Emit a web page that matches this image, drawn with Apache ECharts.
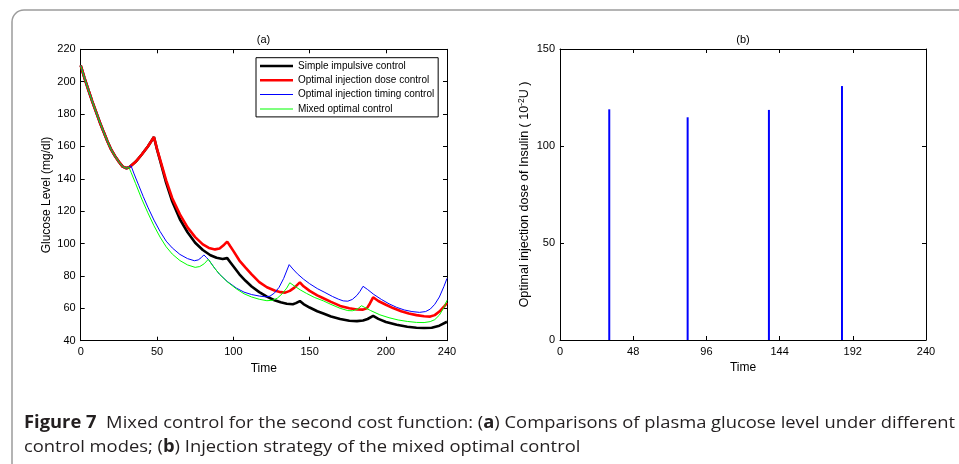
<!DOCTYPE html>
<html><head><meta charset="utf-8">
<script src="https://cdn.jsdelivr.net/npm/echarts@6/dist/echarts.min.js"></script>
<style>html,body{margin:0;padding:0;background:#fff}#c{width:959px;height:464px}</style>
</head><body><div id="c"></div><script>
// ---- data (time in hours, glucose in mg/dl) ----
const seriesNames = ['Simple impulsive control','Optimal injection dose control','Optimal injection timing control','Mixed optimal control'];
const commonStart = [[0,210],[2.5,202.2],[5,195],[7.5,188],[10,181.5],[12.5,175],[15,169],[17.5,163.2],[20,158],[22.5,154],[25,150.5],[27.5,147.5],[30,146.5]];
const simpleImpulsive = [[32,147.3],[36,150.5],[40,155],[44,160],[48,165.8],[50,158.2],[52,151.3],[56,137.5],[60,126],[65,115],[70,107],[75,100.5],[80,96],[85,92.8],[89,91.2],[93,90.5],[96,91],[98,88.5],[100,86],[104,81],[108,77],[112,73.5],[117,70],[122,67.2],[127,65],[131,63.7],[135,62.8],[139,62.5],[141,63.2],[143.6,64.5],[146,62.6],[150,60.5],[155,58.2],[159,56.8],[164,55],[170,53.4],[176,52.3],[181,52.1],[185,52.5],[188,53.4],[191.6,55.3],[195,53.5],[200,51.6],[207,49.8],[214,48.6],[220,48],[225,47.8],[230,48],[235,49.3],[240,51.7]];
const optimalDose = [[32,147.3],[36,150.5],[40,155],[44,160],[48,165.8],[50,158.5],[52,152],[56,139],[60,128],[65,118],[70,110],[75,104],[80,99.5],[84,97.3],[88,96.4],[91,97],[94,99.3],[96,101.2],[98,98.3],[100,95.5],[104,89.5],[108,85.2],[112,81],[117,76.2],[122,73],[127,71],[131,70],[134,69.7],[137,70.8],[140,72.8],[143.6,76],[146,73.6],[150,70.8],[155,68],[159,66.2],[164,64],[170,61.5],[176,60],[181,59.3],[185,59.2],[187.5,60],[189.5,63],[191.6,66.8],[195,64.5],[200,62.2],[205,60],[210,58.2],[215,56.8],[220,55.8],[225,55.1],[229,54.9],[232,55.8],[235,58],[238,61],[240,63.3]];
const optimalTiming = [[31.5,147.2],[33,148],[35,143],[38,136],[41,129],[44,122.5],[48,114.5],[52,107.5],[56,101.5],[60,97.3],[65,93.3],[70,90.7],[74.5,89.4],[77,89.9],[79,91.3],[80.7,93],[82.5,91.3],[84,89.8],[88,84.5],[91,81],[96,76.6],[102,72.5],[107,70],[112,68.5],[117,67.6],[121,67.1],[124,67.5],[127,69.5],[130,73],[133,78.5],[136.6,87],[139,84.3],[142,81.3],[146,78],[150,75.2],[155,72.2],[160,69.8],[165,67.3],[169,65.6],[172,64.6],[175,64.4],[178,65.5],[181,68],[183,70.5],[185,73.6],[188,71.6],[192,68.6],[197,65.5],[202,62.8],[207,60.6],[212,59],[217,58],[222,57.5],[226,58],[229,59.5],[232,62.5],[235,67],[238,73.5],[240,78.5]];
const mixedOptimal = [[31.5,147.3],[33,144],[36,137],[40,127.5],[44,119],[48,111],[52,104],[56,98],[60,93.5],[65,89.5],[70,86.8],[75,85.3],[78,85.8],[81,87.6],[83.6,90.3],[86,87],[88,84.5],[91,81],[96,76.4],[102,72],[107,69],[112,67],[117,65.6],[122,64.7],[126,65],[129,66.4],[132,69],[135,72.5],[137,75.8],[140,73.8],[144,71.3],[148,69.2],[153,66.8],[159,64.6],[164,62.4],[170,60],[175,58.6],[178,58.5],[181,59.3],[184,61.6],[186,60.6],[190,58.6],[196,56],[202,54.2],[208,52.8],[214,51.9],[220,51.3],[225,51.2],[229,51.8],[232,53],[235,55.8],[238,60.5],[240,65]];
// panel (b): mixed optimal control injections
const injectionTimes = [32.3, 83.7, 137, 184.9];
const injectionDoses = [118.9, 114.8, 118.6, 130.9];

const FONT = 'Liberation Sans';
const chart = echarts.init(document.getElementById('c'), null, {renderer:'canvas'});

function axisBase(extra){
  return Object.assign({
    axisLine:{show:true, onZero:false, lineStyle:{color:'#000', width:1}},
    axisTick:{show:true, inside:true, length:4, lineStyle:{color:'#000'}},
    splitLine:{show:false},
    axisLabel:{show:true, color:'#000', fontFamily:FONT, fontSize:11},
    nameTextStyle:{color:'#000', fontFamily:FONT, fontSize:12}
  }, extra);
}
function mirror(ax, pos, grid){
  const a = axisBase(Object.assign({}, ax, {position:pos, gridIndex:grid, name:''}));
  a.axisLabel = {show:false};
  return a;
}
const xa0 = {type:'value', min:0, max:240, interval:50};
const ya0 = {type:'value', min:40, max:220, interval:20};
const xa1 = {type:'value', min:0, max:240, interval:48};
const ya1 = {type:'value', min:0, max:150, interval:50};

const colors = ['#000000','#ff0000','#0000ff','#00ff00'];
const widths = [2.6, 2.6, 1, 1];
const lineData = [simpleImpulsive, optimalDose, optimalTiming, mixedOptimal];
const thickIcon = 'path://M0,0L0,0ZM0,3.7H33V6.3H0ZM0,10L0,10Z';
const thinIcon = 'path://M0,0L0,0ZM0,4.5H33V5.5H0ZM0,10L0,10Z';

const lineSeries = lineData.map((d,i)=>({
  name: seriesNames[i], type:'line', xAxisIndex:0, yAxisIndex:0,
  data: commonStart.concat(d), showSymbol:false, symbol:'none', smooth:false,
  lineStyle:{color:colors[i], width:widths[i]}, itemStyle:{color:colors[i]},
  z: 2+i, animation:false
}));

const axisLbl = (m)=>({color:'#000', fontFamily:FONT, fontSize:11, margin:m});

// caption sizing: fit the measured width of the reference lines
const CAP_SIZE = 17;
const cv = document.createElement('canvas').getContext('2d');
function w(txt, bold){ cv.font = (bold?'bold ':'') + CAP_SIZE + 'px "Open Sans"'; return cv.measureText(txt).width; }
const line1W = w('Figure 7',true) + w('  Mixed control for the second cost function: (') + w('a',true) + w(') Comparisons of plasma glucose level under different');
const capScale = 931 / line1W;
const capRich = {b:{fontWeight:'bold', fontFamily:'Open Sans', fontSize:CAP_SIZE, fill:'#231f20'}};

const option = {
  animation:false,
  backgroundColor:'#fff',
  grid:[
    {left:80.7, top:49.3, width:366.3, height:291.4},
    {left:560, top:49, width:366, height:291}
  ],
  xAxis:[
    axisBase(Object.assign({}, xa0, {gridIndex:0, position:'bottom', name:'Time', nameLocation:'middle', nameGap:22, axisLabel:axisLbl(6)})),
    mirror(xa0,'top',0),
    axisBase(Object.assign({}, xa1, {gridIndex:1, position:'bottom', name:'Time', nameLocation:'middle', nameGap:22, axisLabel:axisLbl(6)})),
    mirror(xa1,'top',1)
  ],
  yAxis:[
    axisBase(Object.assign({}, ya0, {gridIndex:0, position:'left', name:'Glucose Level (mg/dl)', nameLocation:'middle', nameGap:28, axisLabel:axisLbl(5)})),
    mirror(ya0,'right',0),
    axisBase(Object.assign({}, ya1, {gridIndex:1, position:'left', name:'Optimal injection dose of Insulin ( 10{sup|-2}U )', nameLocation:'middle', nameGap:27,
      nameTextStyle:{color:'#000', fontFamily:FONT, fontSize:12.5, rich:{sup:{fontFamily:FONT, fontSize:8.5, color:'#000', padding:[0,0,7,0]}}},
      axisLabel:axisLbl(5)})),
    mirror(ya1,'right',1)
  ],
  legend:{
    show:true, orient:'vertical', left:256, top:57.7,
    data: seriesNames.map((n,i)=>({name:n, icon: widths[i]>2 ? thickIcon : thinIcon, itemStyle:{color:colors[i], borderWidth:0}})),
    itemWidth:33, itemHeight:10, itemGap:4.3,
    padding:[3.3,4,3,4],
    borderColor:'#000', borderWidth:1, backgroundColor:'#fff',
    itemStyle:{borderWidth:0},
    textStyle:{color:'#000', fontFamily:FONT, fontSize:10},
    selectedMode:false
  },
  series: lineSeries.concat([{
    name:'dose', type:'bar', xAxisIndex:2, yAxisIndex:2,
    data: injectionTimes.map((t,i)=>[t, injectionDoses[i]]),
    barWidth:2, itemStyle:{color:'#0000ff'}, animation:false
  }]),
  graphic:[
    {type:'rect', shape:{x:12, y:10, width:1000, height:500, r:[12,0,0,0]}, style:{fill:'none', stroke:'#9c9c9c', lineWidth:1.5}, silent:true},
    {type:'text', x:263.5, y:40, style:{text:'(a)', font:'11px "Liberation Sans"', fill:'#000', textAlign:'center', textVerticalAlign:'middle'}},
    {type:'text', x:743, y:40, style:{text:'(b)', font:'11px "Liberation Sans"', fill:'#000', textAlign:'center', textVerticalAlign:'middle'}},
    {type:'text', x:24, y:423, scaleX:capScale, style:{
      text:'{b|Figure 7}  Mixed control for the second cost function: ({b|a}) Comparisons of plasma glucose level under different',
      fontFamily:'Open Sans', fontSize:CAP_SIZE, fill:'#231f20', textVerticalAlign:'middle', rich:capRich}},
    {type:'text', x:24, y:447, scaleX:capScale, style:{
      text:'control modes; ({b|b}) Injection strategy of the mixed optimal control',
      fontFamily:'Open Sans', fontSize:CAP_SIZE, fill:'#231f20', textVerticalAlign:'middle', rich:capRich}}
  ]
};
chart.setOption(option);
</script></body></html>
